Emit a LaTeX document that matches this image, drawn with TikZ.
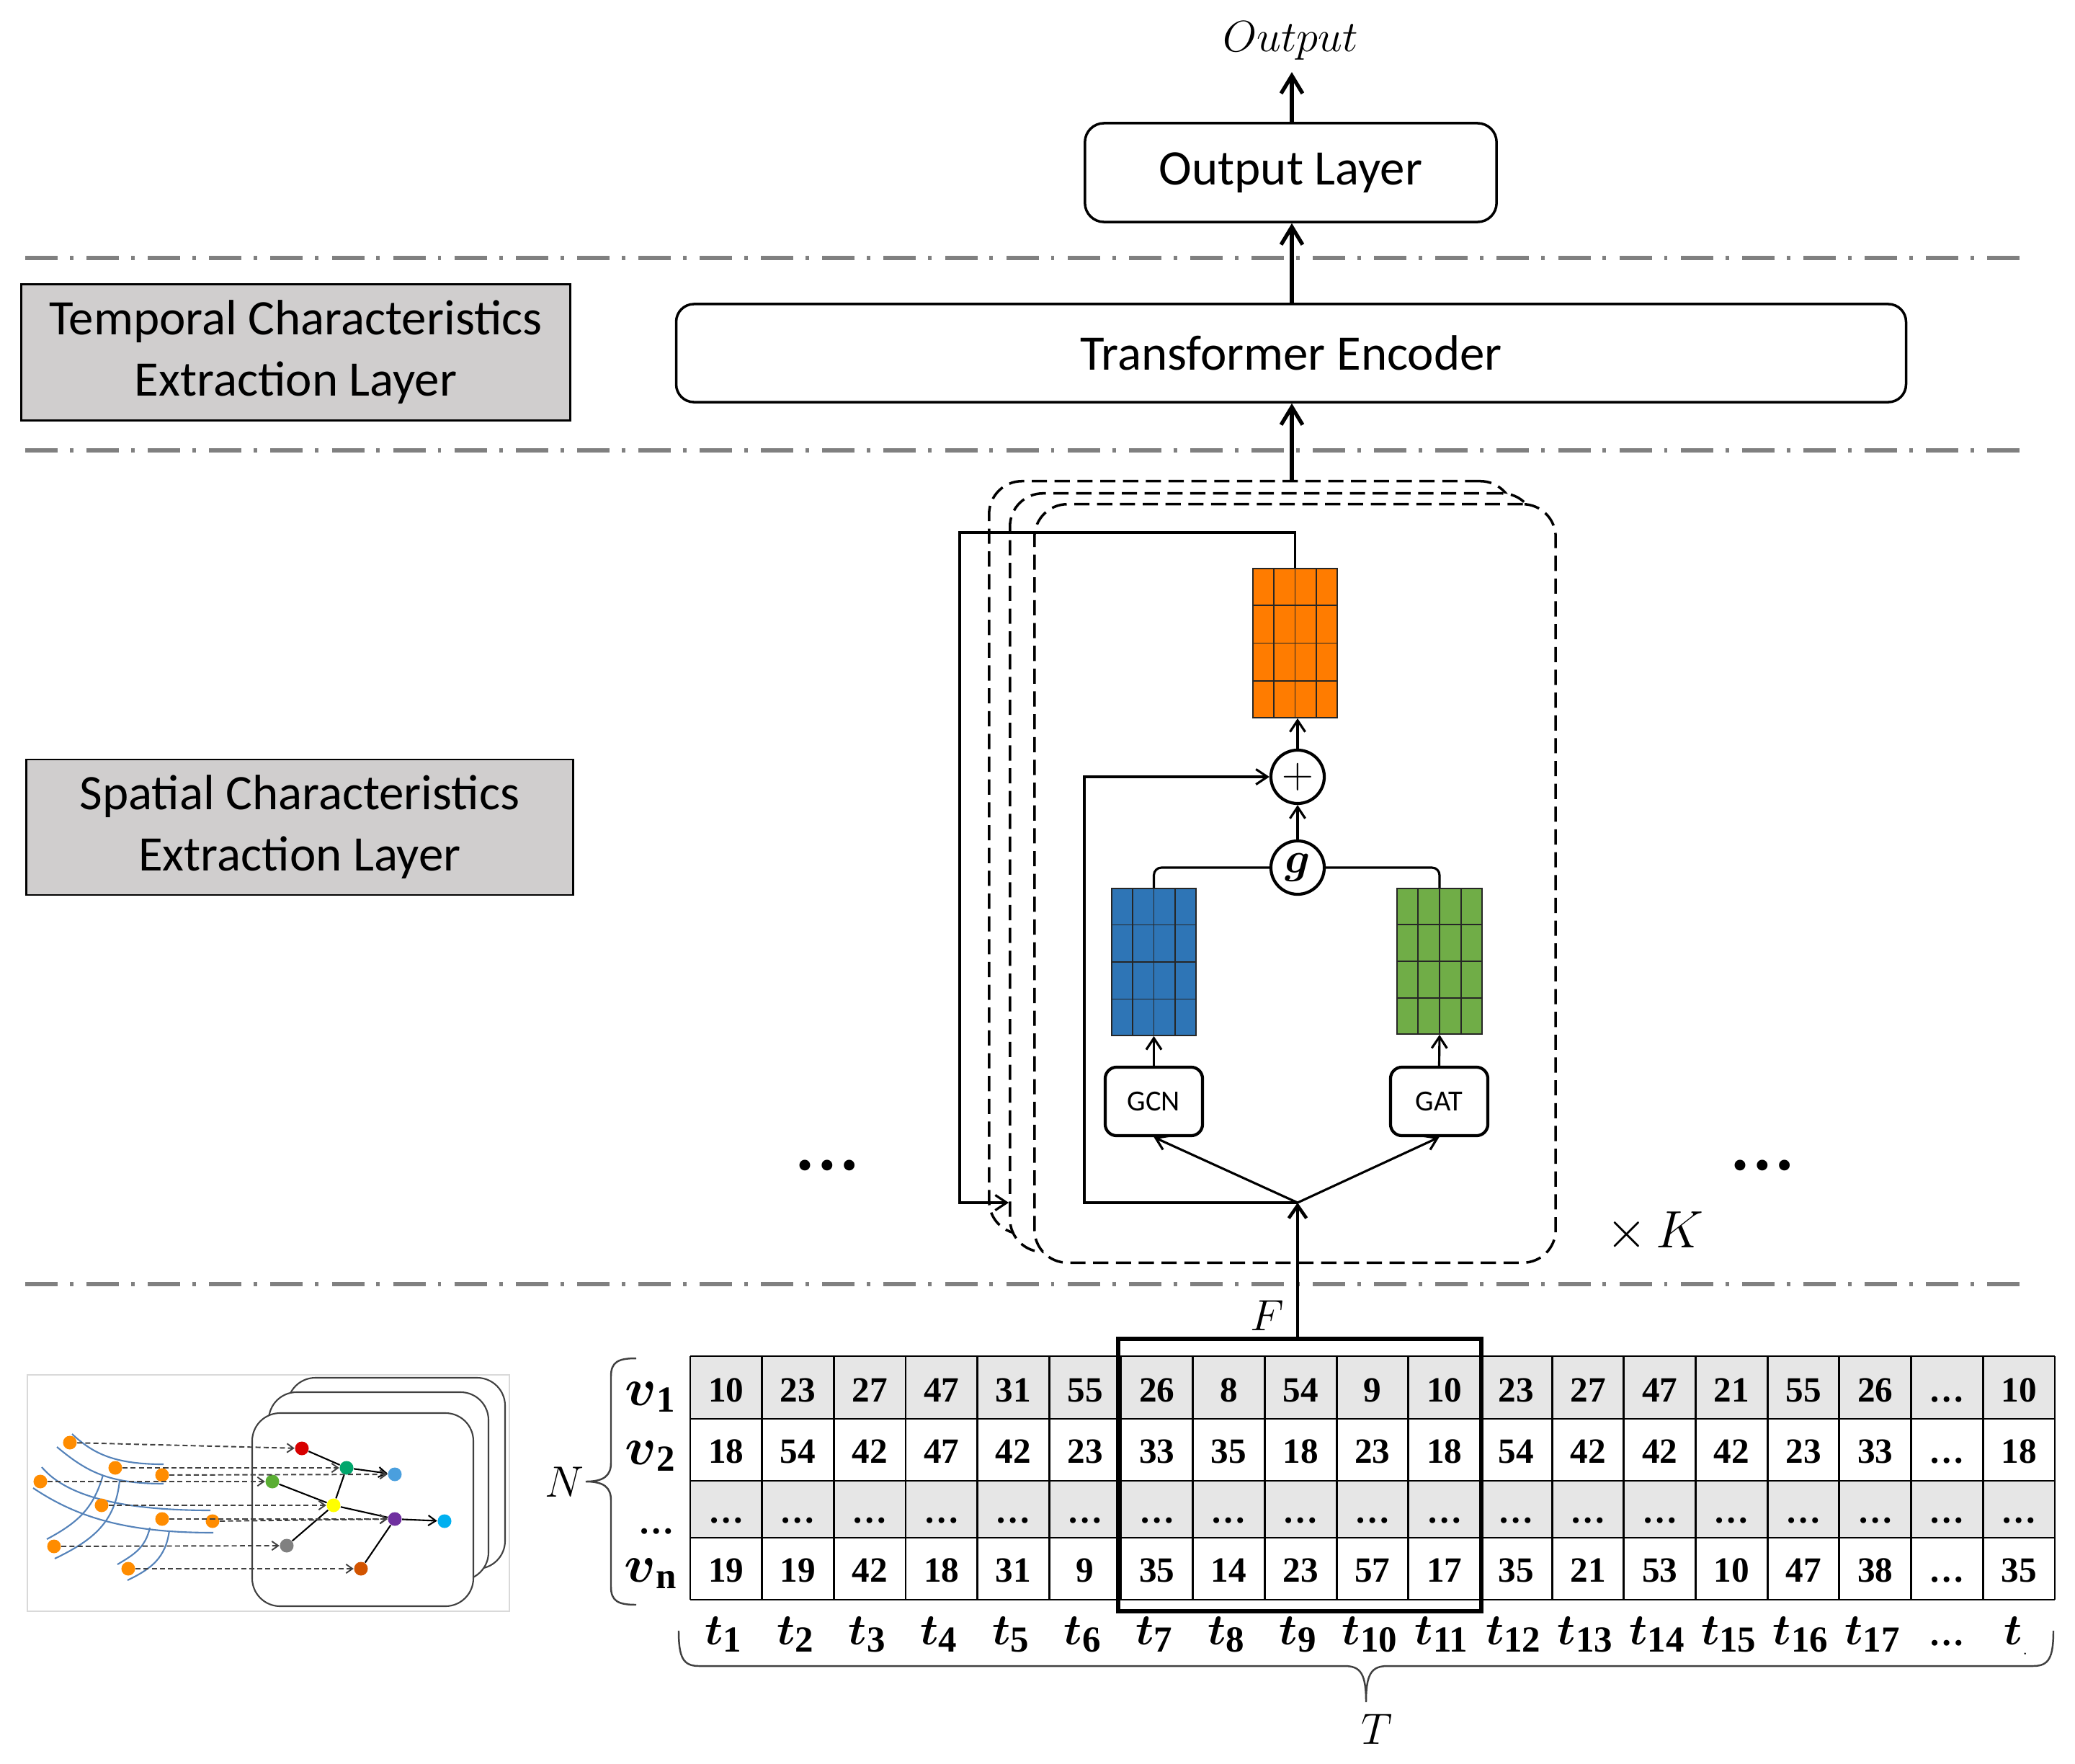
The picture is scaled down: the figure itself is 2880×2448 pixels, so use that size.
\documentclass[tikz,border=0pt]{standalone}
\usepackage{amsmath}
\usepackage{fontspec}
\usetikzlibrary{arrows.meta,calc}
\newfontfamily\calib{Carlito}
\newfontfamily\tnr{Liberation Serif}
\definecolor{sepgray}{RGB}{128,128,128}
\definecolor{boxgray}{RGB}{208,206,206}
\definecolor{rowgray}{RGB}{230,230,230}
\definecolor{matorange}{RGB}{255,124,0}
\definecolor{matblue}{RGB}{46,117,182}
\definecolor{matgreen}{RGB}{112,173,71}
\definecolor{road}{RGB}{84,130,185}
\definecolor{dotorange}{RGB}{255,140,0}
\definecolor{nred}{RGB}{215,0,0}
\definecolor{ngreen}{RGB}{0,166,108}
\definecolor{nlblue}{RGB}{74,159,222}
\definecolor{nlgreen}{RGB}{90,174,51}
\definecolor{nyellow}{RGB}{255,255,0}
\definecolor{npurple}{RGB}{112,48,160}
\definecolor{ncyan}{RGB}{0,176,240}
\definecolor{ngray}{RGB}{128,128,128}
\definecolor{ndorange}{RGB}{210,84,0}
\newcommand\vlab[1]{{\fontsize{21pt}{24pt}\selectfont$\boldsymbol{v}$}\raisebox{-2.8pt}{\tnr\bfseries\fontsize{14.5pt}{16pt}\selectfont #1}}
\newcommand\tlab[1]{{\fontsize{16pt}{18pt}\selectfont$\boldsymbol{t}$}\raisebox{-3pt}{\tnr\bfseries\fontsize{14.5pt}{16pt}\selectfont #1}}
\newcommand\cellgrid[1]{%
  \foreach \k in {1,2,3}{%
    \draw[line width=0.5pt,black!85] ($(#1.north west)!\k/4!(#1.north east)$) -- ($(#1.south west)!\k/4!(#1.south east)$);
    \draw[line width=0.5pt,black!85] ($(#1.north west)!\k/4!(#1.south west)$) -- ($(#1.north east)!\k/4!(#1.south east)$);
  }}
\begin{document}
\begin{tikzpicture}[x=0.01cm,y=-0.01cm,
  sep/.style={draw=sepgray,line width=1.5pt,dash pattern=on 12.8pt off 4.8pt on 1.4pt off 5.2pt},
  labbox/.style={draw=black,line width=0.8pt,fill=boxgray,align=center,font=\calib\fontsize{19.6pt}{24.2pt}\selectfont,inner sep=0pt},
  rbox/.style={draw=black,line width=1pt,rounded corners=7.5pt,fill=white,font=\calib\fontsize{19.6pt}{24pt}\selectfont,inner sep=0pt},
  dbox/.style={draw=black,line width=1pt,dash pattern=on 6pt off 3pt,rounded corners=13pt,fill=white,inner sep=0pt},
  mat/.style={draw=black!85,line width=0.5pt,inner sep=0pt},
  smallbox/.style={draw=black,line width=1.2pt,rounded corners=4.5pt,fill=white,font=\calib\fontsize{11.5pt}{13pt}\selectfont,inner sep=0pt,minimum width=1.35cm,minimum height=0.95cm},
  op/.style={circle,draw=black,line width=1.2pt,minimum size=0.74cm,inner sep=0pt,fill=white},
  bigarr/.style={line width=1.5pt,-{Straight Barb[length=7pt,width=8.5pt]}},
  arr/.style={line width=0.9pt,-{Straight Barb[length=4.5pt,width=6pt]}},
  ln/.style={line width=0.9pt},
  num/.style={font=\tnr\bfseries\fontsize{14pt}{16pt}\selectfont,anchor=base,inner sep=0pt},
  tl/.style={line width=0.8pt,black},
  tlabel/.style={anchor=base,inner sep=0pt},
  mathlab/.style={inner sep=0pt,font=\fontsize{17pt}{20pt}\selectfont},
  brace/.style={line width=0.7pt,black!75},
  card/.style={draw=black!75,line width=0.6pt,fill=white,rounded corners=11pt},
  dot/.style={circle,minimum size=0.19cm,inner sep=0pt},
  darr/.style={black!75,line width=0.55pt,dash pattern=on 2pt off 1.2pt,-{Straight Barb[length=2.5pt,width=3.5pt]}},
  garr/.style={black,line width=0.6pt},
  roadl/.style={road,line width=0.6pt}]
\useasboundingbox (0,0) rectangle (2880,2448);

% separators
\draw[sep] (35,358) -- (2818,358);
\draw[sep] (35,625) -- (2818,625);
\draw[sep] (35,1782) -- (2818,1782);

% left labels
\node[labbox,minimum width=7.61cm,minimum height=1.89cm] (temp) at (410.5,489) {Temporal Characteristics\\Extraction Layer};
\node[labbox,minimum width=7.58cm,minimum height=1.88cm] (spat) at (416,1148) {Spatial Characteristics\\Extraction Layer};

% top stack
\coordinate (ax) at (1793,0);
\node[inner sep=0pt,anchor=base,font=\fontsize{16.5pt}{19pt}\selectfont] (outtxt) at (1791,71) {$Output$};
\node[rbox,minimum width=5.71cm,minimum height=1.37cm] (outl) at (1791.5,239.5) {Output Layer};
\node[rbox,rounded corners=7pt,minimum width=17.06cm,minimum height=1.36cm] (tenc) at (1792,490) {Transformer Encoder};
\draw[bigarr] (outl.north -| ax) -- (1793,100);
\draw[bigarr] (tenc.north -| ax) -- (outl.south -| ax);

% dashed stacked blocks
\node[dbox,minimum width=7.27cm,minimum height=10.44cm] (boxA) at (1736.5,1190) {};
\node[dbox,minimum width=7.28cm,minimum height=10.52cm] (boxB) at (1766,1211) {};
\node[dbox,minimum width=7.23cm,minimum height=10.52cm] (boxC) at (1797.5,1226) {};
\draw[bigarr] (boxA.north -| ax) -- (tenc.south -| ax);

% inner block
\node[mat,fill=matorange,minimum width=1.17cm,minimum height=2.07cm] (orng) at (1797.5,892.5) {};
\cellgrid{orng}
\node[mat,fill=matblue,minimum width=1.17cm,minimum height=2.04cm] (blue) at (1601.5,1335) {};
\cellgrid{blue}
\node[mat,fill=matgreen,minimum width=1.18cm,minimum height=2.02cm] (green) at (1998,1334) {};
\cellgrid{green}
\node[op,font=\fontsize{16pt}{18pt}\selectfont] (plus) at (1801,1078) {$+$};
\node[op,font=\fontsize{17pt}{18pt}\selectfont] (gate) at (1801,1204) {$\boldsymbol{g}$};
\node[smallbox] (gcn) at (1601.5,1528.5) {GCN};
\node[smallbox] (gat) at (1997.5,1528.5) {GAT};
\coordinate (split) at (1801,1669);
\coordinate (fbL) at (1332,739);
\coordinate (skipc) at (1505,1078);

\draw[arr] (gcn.north) -- (blue.south);
\draw[arr] (gat.north) -- (green.south);
\draw[ln,rounded corners=3pt] (blue.north) |- (gate.west);
\draw[ln,rounded corners=3pt] (gate.east) -| (green.north);
\draw[arr] (gate.north) -- (plus.south);
\draw[arr] (plus.north) -- (plus.north |- orng.south);
\draw[arr] (split) -- (gcn.south);
\draw[arr] (split) -- (gat.south);
\draw[arr] (split) -| (skipc) -- (plus.west);
\draw[arr] (orng.north) |- (fbL) |- (split -| boxB.west);

% input table
\fill[rowgray] (958,1882) rectangle (2852,1969);
\fill[rowgray] (958,2055) rectangle (2852,2134);
\foreach \k in {0,...,19} \draw[tl] ({958+\k*99.68},1882) -- ({958+\k*99.68},2220);
\foreach \yy in {1882,1969,2055,2134,2220} \draw[tl] (958,\yy) -- (2852,\yy);
\foreach \v [count=\c] in {10,23,27,47,31,55,26,8,54,9,10,23,27,47,21,55,26,…,10}
  \node[num] (ra\c) at ({958+(\c-0.5)*99.68},1945) {\v};
\foreach \v [count=\c] in {18,54,42,47,42,23,33,35,18,23,18,54,42,42,42,23,33,…,18}
  \node[num] (rb\c) at ({958+(\c-0.5)*99.68},2030) {\v};
\foreach \c in {1,...,19}
  \node[num] (rc\c) at ({958+(\c-0.5)*99.68},2113) {…};
\foreach \v [count=\c] in {19,19,42,18,31,9,35,14,23,57,17,35,21,53,10,47,38,…,35}
  \node[num] (rd\c) at ({958+(\c-0.5)*99.68},2195) {\v};
\node[draw=black,line width=1.8pt,minimum width=5.04cm,minimum height=3.78cm,inner sep=0pt] (win) at (1804,2047) {};
\draw[line width=1.3pt,-{Straight Barb[length=5pt,width=7pt]}] (win.north -| split) -- (split);
\node[mathlab] (Flab) at (1759,1826) {$F$};

% row labels
\node[anchor=base east,inner sep=0pt] (v1) at (938,1950) {\vlab{1}};
\node[anchor=base east,inner sep=0pt] (v2) at (938,2032) {\vlab{2}};
\node[anchor=base west,inner sep=0pt,font=\tnr\bfseries\fontsize{14pt}{16pt}\selectfont] (vd) at (886,2128) {…};
\node[anchor=base east,inner sep=0pt] (vn) at (940,2195) {\vlab{n}};
\node[mathlab] (Nlab) at (783,2057) {$N$};
\draw[brace] (883,1885) .. controls (858,1885) and (848,1890) .. (848,1910) -- (848,2030) .. controls (848,2048) and (838,2056) .. (813,2056) .. controls (838,2056) and (848,2064) .. (848,2082) -- (848,2202) .. controls (848,2222) and (858,2227) .. (883,2227);

% time labels
\foreach \c in {1,...,17}
  \node[tlabel] (t\c) at ({958+(\c-0.5)*99.68-4},2282) {\tlab{\c}};
\node[tlabel,font=\tnr\bfseries\fontsize{14pt}{16pt}\selectfont] (t18) at ({958+17.5*99.68},2283) {…};
\node[tlabel] (t19) at ({958+18.5*99.68-4},2282) {{\fontsize{16pt}{18pt}\selectfont$\boldsymbol{t}$}\raisebox{-4pt}{\fontsize{6pt}{6pt}\selectfont .}};
\draw[brace] (942,2263) .. controls (942,2300) and (948,2312) .. (970,2312) -- (1866,2312) .. controls (1888,2312) and (1896,2322) .. (1896,2362) .. controls (1896,2322) and (1904,2312) .. (1926,2312) -- (2822,2312) .. controls (2844,2312) and (2850,2300) .. (2850,2263);
\node[mathlab] (Tlab) at (1911,2400) {$T$};

% dots and K
\node[inner sep=0pt,anchor=base,font=\tnr\bfseries\fontsize{26pt}{28pt}\selectfont] (dl) at (1148,1623) {…};
\node[inner sep=0pt,anchor=base,font=\tnr\bfseries\fontsize{26pt}{28pt}\selectfont] (dr) at (2446,1623) {…};
\node[inner sep=0pt,font=\fontsize{19.6pt}{22pt}\selectfont] (Klab) at (2297,1710) {$\times\,K$};

% road network picture
\draw[draw=black!15,line width=0.5pt] (38,1908) rectangle (707,2236);
\draw[card] (399,1912) rectangle (701,2177);
\draw[card] (373,1932) rectangle (678,2193);
\draw[card] (350,1961) rectangle (657,2229);
\draw[roadl] (100,1990) .. controls (130,2018) and (160,2032) .. (227,2032);
\draw[roadl] (79,2008) .. controls (120,2042) and (150,2059) .. (227,2059);
\draw[roadl] (58,2036) .. controls (95,2080) and (180,2096) .. (292,2096);
\draw[roadl] (46,2065) .. controls (110,2108) and (180,2127) .. (296,2127);
\draw[roadl] (143,2047) .. controls (130,2092) and (110,2112) .. (65,2136);
\draw[roadl] (166,2055) .. controls (160,2112) and (130,2137) .. (76,2163);
\draw[roadl] (208,2120) .. controls (202,2147) and (187,2157) .. (163,2171);
\draw[roadl] (235,2124) .. controls (230,2162) and (210,2177) .. (177,2193);
\foreach \n/\x/\y in {o1/97/2002,o2/160/2037,o3/225/2047,o4/56/2056,o5/141/2089,o6/225/2108,o7/295/2111,o8/75/2146,o9/178/2177}
  \node[dot,fill=dotorange] (\n) at (\x,\y) {};
\node[dot,fill=nred] (nr) at (419,2010) {};
\node[dot,fill=ngreen] (ng) at (481,2037) {};
\node[dot,fill=nlblue] (nb) at (548,2046) {};
\node[dot,fill=nlgreen] (nlg) at (378,2056) {};
\node[dot,fill=nyellow] (ny) at (463,2089) {};
\node[dot,fill=npurple] (np) at (548,2108) {};
\node[dot,fill=ncyan] (nc) at (617,2111) {};
\node[dot,fill=ngray] (ngr) at (398,2145) {};
\node[dot,fill=ndorange] (nd) at (501,2177) {};
\draw[garr] (nr) -- (ng);
\draw[garr,-{Straight Barb[length=3pt,width=4pt]}] (ng) -- (nb);
\draw[garr] (ng) -- (ny);
\draw[garr] (nlg) -- (ny);
\draw[garr] (ny) -- (np);
\draw[garr,-{Straight Barb[length=3pt,width=4pt]}] (np) -- (nc);
\draw[garr] (ny) -- (ngr);
\draw[garr] (np) -- (nd);
\draw[darr] (o1) -- (nr);
\draw[darr] (o2) -- (ng);
\draw[darr] (o3) -- (nb);
\draw[darr] (o4) -- (nlg);
\draw[darr] (o5) -- (ny);
\draw[darr] (o6) -- (np);
\draw[darr] (o7) -- (np);
\draw[darr] (o8) -- (ngr);
\draw[darr] (o9) -- (nd);
\end{tikzpicture}
\end{document}
